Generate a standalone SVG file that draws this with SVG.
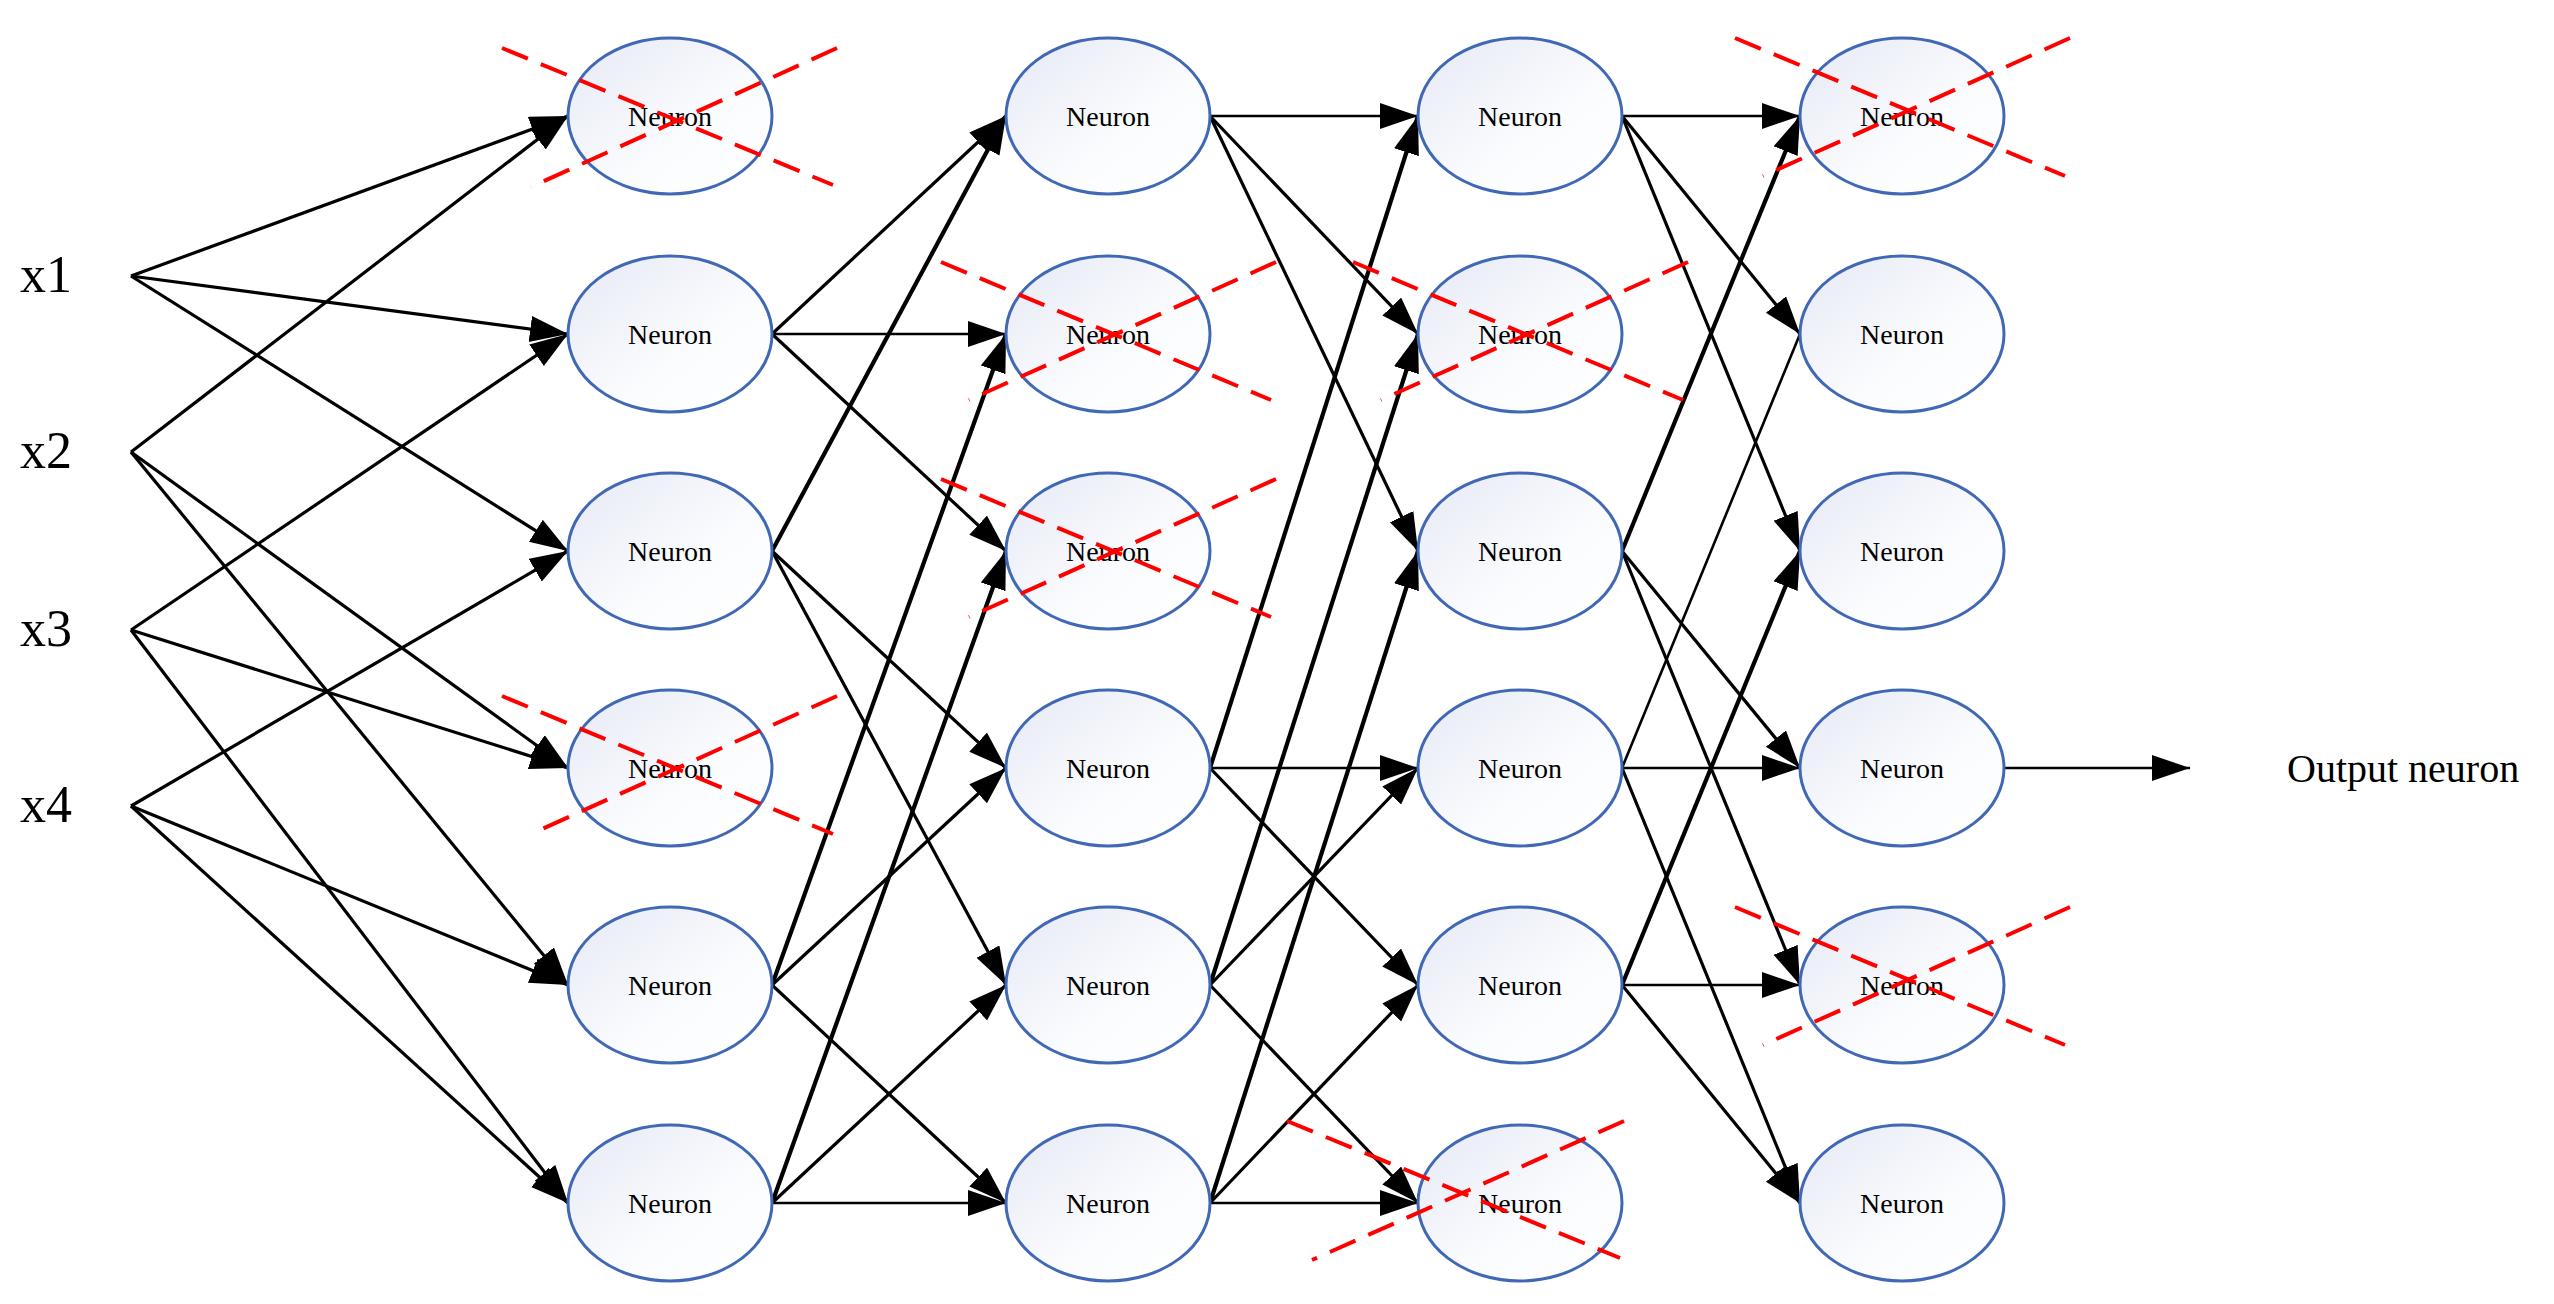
<svg xmlns="http://www.w3.org/2000/svg" width="2554" height="1304" viewBox="0 0 2554 1304">
<style>
.n ellipse{fill:url(#g);stroke:#4168b4;stroke-width:3}
.n text{font-family:"Liberation Serif",serif;font-size:28px;text-anchor:middle;fill:#000}
.e line{stroke:#000;stroke-width:3.2;marker-end:url(#a)}
.e line.t{stroke-width:4.2}
.e line.h{stroke-width:2.6}
.e line.na{marker-end:none;stroke-width:2.6}
.x line{stroke:#f00;stroke-width:4;stroke-dasharray:28 14}
.lbl{font-family:"Liberation Serif",serif;fill:#000}
</style>
<defs>
<linearGradient id="g" x1="0" y1="0" x2="1" y2="1"><stop offset="0" stop-color="#e6e9f5"/><stop offset="0.6" stop-color="#fbfcfe"/><stop offset="1" stop-color="#ffffff"/></linearGradient>
<marker id="a" markerUnits="userSpaceOnUse" markerWidth="40" markerHeight="28" refX="38" refY="13" orient="auto"><path d="M0,0 L38,13 L0,26 z" fill="#000"/></marker>
</defs>
<rect width="2554" height="1304" fill="#fff"/>
<g id="inputs">
<text class="lbl" x="20" y="292" font-size="52">x1</text>
<text class="lbl" x="20" y="468" font-size="52">x2</text>
<text class="lbl" x="20" y="646" font-size="52">x3</text>
<text class="lbl" x="20" y="822" font-size="52">x4</text>
</g>
<g id="connectors" class="e">
<!-- inputs to L1 -->
<line x1="131" y1="276" x2="568" y2="116"/>
<line x1="131" y1="276" x2="568" y2="334"/>
<line x1="131" y1="276" x2="568" y2="551"/>
<line x1="131" y1="452" x2="568" y2="116"/>
<line x1="131" y1="452" x2="568" y2="768"/>
<line x1="131" y1="452" x2="568" y2="985"/>
<line x1="131" y1="630" x2="568" y2="334"/>
<line x1="131" y1="630" x2="568" y2="768"/>
<line x1="131" y1="630" x2="568" y2="1203"/>
<line x1="131" y1="806" x2="568" y2="551"/>
<line x1="131" y1="806" x2="568" y2="985"/>
<line x1="131" y1="806" x2="568" y2="1203"/>
<!-- L1 to L2 -->
<line x1="772" y1="334" x2="1006" y2="116"/>
<line class="h" x1="772" y1="334" x2="1006" y2="334"/>
<line x1="772" y1="334" x2="1006" y2="551"/>
<line class="t" x1="772" y1="551" x2="1006" y2="116"/>
<line x1="772" y1="551" x2="1006" y2="768"/>
<line x1="772" y1="551" x2="1006" y2="985"/>
<line class="t" x1="772" y1="985" x2="1006" y2="334"/>
<line x1="772" y1="985" x2="1006" y2="768"/>
<line x1="772" y1="985" x2="1006" y2="1203"/>
<line class="t" x1="772" y1="1203" x2="1006" y2="551"/>
<line x1="772" y1="1203" x2="1006" y2="985"/>
<line class="h" x1="772" y1="1203" x2="1006" y2="1203"/>
<!-- L2 to L3 -->
<line class="h" x1="1210" y1="116" x2="1418" y2="116"/>
<line x1="1210" y1="116" x2="1418" y2="334"/>
<line x1="1210" y1="116" x2="1418" y2="551"/>
<line class="t" x1="1210" y1="768" x2="1418" y2="116"/>
<line class="h" x1="1210" y1="768" x2="1418" y2="768"/>
<line x1="1210" y1="768" x2="1418" y2="985"/>
<line class="t" x1="1210" y1="985" x2="1418" y2="334"/>
<line x1="1210" y1="985" x2="1418" y2="768"/>
<line x1="1210" y1="985" x2="1418" y2="1203"/>
<line class="t" x1="1210" y1="1203" x2="1418" y2="551"/>
<line x1="1210" y1="1203" x2="1418" y2="985"/>
<line class="h" x1="1210" y1="1203" x2="1418" y2="1203"/>
<!-- L3 to L4 -->
<line class="h" x1="1622" y1="116" x2="1800" y2="116"/>
<line x1="1622" y1="116" x2="1800" y2="334"/>
<line x1="1622" y1="116" x2="1800" y2="551"/>
<line class="t" x1="1622" y1="551" x2="1800" y2="116"/>
<line x1="1622" y1="551" x2="1800" y2="768"/>
<line x1="1622" y1="551" x2="1800" y2="985"/>
<line class="na" x1="1622" y1="768" x2="1800" y2="334"/>
<line class="h" x1="1622" y1="768" x2="1800" y2="768"/>
<line x1="1622" y1="768" x2="1800" y2="1203"/>
<line class="t" x1="1622" y1="985" x2="1800" y2="551"/>
<line class="h" x1="1622" y1="985" x2="1800" y2="985"/>
<line x1="1622" y1="985" x2="1800" y2="1203"/>
<!-- output -->
<line class="h" x1="2004" y1="768" x2="2190" y2="768"/>
</g>
<g id="L1N1" class="n"><ellipse cx="670" cy="116" rx="102" ry="78"/><text x="670" y="126">Neuron</text></g>
<g id="L1N2" class="n"><ellipse cx="670" cy="334" rx="102" ry="78"/><text x="670" y="344">Neuron</text></g>
<g id="L1N3" class="n"><ellipse cx="670" cy="551" rx="102" ry="78"/><text x="670" y="561">Neuron</text></g>
<g id="L1N4" class="n"><ellipse cx="670" cy="768" rx="102" ry="78"/><text x="670" y="778">Neuron</text></g>
<g id="L1N5" class="n"><ellipse cx="670" cy="985" rx="102" ry="78"/><text x="670" y="995">Neuron</text></g>
<g id="L1N6" class="n"><ellipse cx="670" cy="1203" rx="102" ry="78"/><text x="670" y="1213">Neuron</text></g>
<g id="L2N1" class="n"><ellipse cx="1108" cy="116" rx="102" ry="78"/><text x="1108" y="126">Neuron</text></g>
<g id="L2N2" class="n"><ellipse cx="1108" cy="334" rx="102" ry="78"/><text x="1108" y="344">Neuron</text></g>
<g id="L2N3" class="n"><ellipse cx="1108" cy="551" rx="102" ry="78"/><text x="1108" y="561">Neuron</text></g>
<g id="L2N4" class="n"><ellipse cx="1108" cy="768" rx="102" ry="78"/><text x="1108" y="778">Neuron</text></g>
<g id="L2N5" class="n"><ellipse cx="1108" cy="985" rx="102" ry="78"/><text x="1108" y="995">Neuron</text></g>
<g id="L2N6" class="n"><ellipse cx="1108" cy="1203" rx="102" ry="78"/><text x="1108" y="1213">Neuron</text></g>
<g id="L3N1" class="n"><ellipse cx="1520" cy="116" rx="102" ry="78"/><text x="1520" y="126">Neuron</text></g>
<g id="L3N2" class="n"><ellipse cx="1520" cy="334" rx="102" ry="78"/><text x="1520" y="344">Neuron</text></g>
<g id="L3N3" class="n"><ellipse cx="1520" cy="551" rx="102" ry="78"/><text x="1520" y="561">Neuron</text></g>
<g id="L3N4" class="n"><ellipse cx="1520" cy="768" rx="102" ry="78"/><text x="1520" y="778">Neuron</text></g>
<g id="L3N5" class="n"><ellipse cx="1520" cy="985" rx="102" ry="78"/><text x="1520" y="995">Neuron</text></g>
<g id="L3N6" class="n"><ellipse cx="1520" cy="1203" rx="102" ry="78"/><text x="1520" y="1213">Neuron</text></g>
<g id="L4N1" class="n"><ellipse cx="1902" cy="116" rx="102" ry="78"/><text x="1902" y="126">Neuron</text></g>
<g id="L4N2" class="n"><ellipse cx="1902" cy="334" rx="102" ry="78"/><text x="1902" y="344">Neuron</text></g>
<g id="L4N3" class="n"><ellipse cx="1902" cy="551" rx="102" ry="78"/><text x="1902" y="561">Neuron</text></g>
<g id="L4N4" class="n"><ellipse cx="1902" cy="768" rx="102" ry="78"/><text x="1902" y="778">Neuron</text></g>
<g id="L4N5" class="n"><ellipse cx="1902" cy="985" rx="102" ry="78"/><text x="1902" y="995">Neuron</text></g>
<g id="L4N6" class="n"><ellipse cx="1902" cy="1203" rx="102" ry="78"/><text x="1902" y="1213">Neuron</text></g>
<g id="output"><text class="lbl" x="2287" y="782" font-size="40">Output neuron</text></g>
<g id="crosses" class="x">
<line x1="502" y1="48" x2="833" y2="185"/><line x1="837" y1="48" x2="531" y2="187"/>
<line x1="502" y1="696" x2="833" y2="834"/><line x1="837" y1="696" x2="531" y2="834"/>
<line x1="941" y1="262" x2="1271" y2="400"/><line x1="1276" y1="262" x2="969" y2="400"/>
<line x1="941" y1="479" x2="1271" y2="617"/><line x1="1276" y1="479" x2="969" y2="617"/>
<line x1="1353" y1="262" x2="1683" y2="400"/><line x1="1688" y1="262" x2="1381" y2="400"/>
<line x1="1287" y1="1121" x2="1620" y2="1258"/><line x1="1624" y1="1121" x2="1312" y2="1260"/>
<line x1="1735" y1="38" x2="2065" y2="176"/><line x1="2070" y1="38" x2="1763" y2="176"/>
<line x1="1735" y1="907" x2="2065" y2="1045"/><line x1="2070" y1="907" x2="1763" y2="1045"/>
</g>
</svg>
